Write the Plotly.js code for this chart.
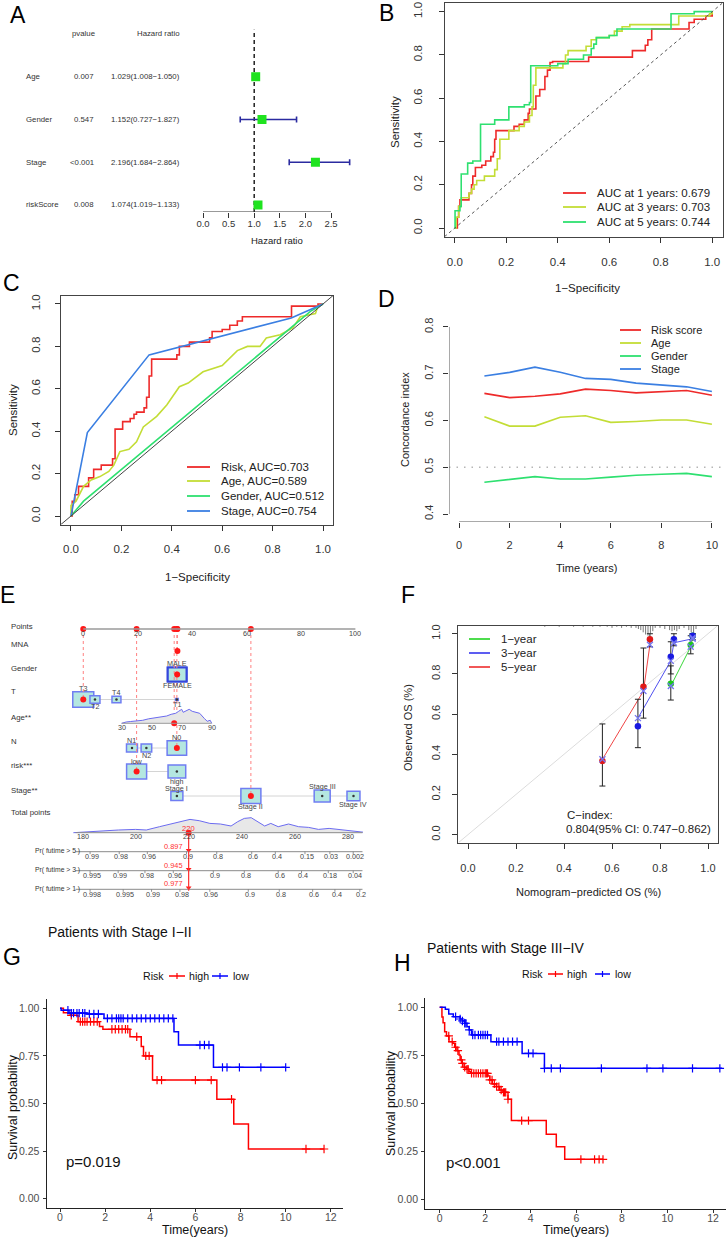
<!DOCTYPE html>
<html><head><meta charset="utf-8">
<script src="https://cdn.plot.ly/plotly-3.0.1.min.js"></script>
<style>html,body{margin:0;padding:0;background:#fff}#chart{width:726px;height:1239px}</style>
</head><body><div id="chart"></div>
<script>
// ================= DATA =================
// A: multivariate Cox regression
const forestVars = ['Age','Gender','Stage','riskScore'];
const forestP = ['0.007','0.547','<0.001','0.008'];
const forestHR = [1.029,1.152,2.196,1.074];
const forestLow = [1.008,0.727,1.684,1.019];
const forestHigh = [1.050,1.827,2.864,1.133];
const forestTicks = [0,0.5,1,1.5,2,2.5];

// B: time-dependent ROC
const rocYears = [1,3,5];
const rocAUC = [0.679,0.703,0.744];
const b1x = [0,0.01,0.015,0.02,0.055,0.065,0.07,0.08,0.105,0.12,0.14,0.15,0.155,0.16,0.23,0.25,0.27,0.285,0.29,0.315,0.33,0.35,0.36,0.37,0.38,0.52,0.69,0.74,0.75,0.765,0.91,0.93,0.975,1];
const b1y = [0,0.05,0.1,0.13,0.16,0.2,0.24,0.28,0.29,0.31,0.33,0.35,0.41,0.45,0.47,0.48,0.5,0.53,0.55,0.61,0.64,0.7,0.73,0.765,0.77,0.79,0.82,0.845,0.87,0.92,0.95,0.965,0.98,1];
const b3x = [0,0.005,0.015,0.025,0.055,0.065,0.075,0.085,0.115,0.155,0.165,0.175,0.21,0.25,0.27,0.29,0.3,0.305,0.315,0.42,0.43,0.44,0.51,0.53,0.55,0.6,0.62,0.65,0.68,0.87,0.99,1];
const b3y = [0,0.05,0.1,0.14,0.16,0.18,0.2,0.22,0.24,0.27,0.32,0.41,0.45,0.47,0.49,0.52,0.56,0.66,0.74,0.76,0.8,0.82,0.84,0.87,0.88,0.89,0.91,0.93,0.94,0.98,0.99,1];
const b5x = [0,0.001,0.02,0.025,0.05,0.07,0.1,0.155,0.21,0.27,0.29,0.295,0.4,0.44,0.5,0.53,0.54,0.55,0.6,0.63,0.84,0.93,1];
const b5y = [0,0.08,0.1,0.25,0.3,0.31,0.48,0.5,0.56,0.57,0.58,0.75,0.76,0.78,0.8,0.83,0.85,0.88,0.89,0.92,0.99,1.0,1];

// C: ROC of clinical factors
const cNames = ['Risk','Age','Gender','Stage'];
const cAUC = [0.703,0.589,0.512,0.754];
const cRiskX = [0,0.005,0.015,0.03,0.07,0.09,0.12,0.165,0.175,0.205,0.235,0.25,0.26,0.29,0.3,0.31,0.32,0.42,0.43,0.47,0.55,0.56,0.6,0.63,0.66,0.68,0.875,0.98,1];
const cRiskY = [0,0.07,0.1,0.14,0.18,0.22,0.24,0.27,0.41,0.445,0.46,0.48,0.49,0.51,0.56,0.66,0.74,0.76,0.8,0.82,0.84,0.87,0.88,0.9,0.92,0.94,0.99,1,1];
const cAgeX = [0,0,0.02,0.05,0.08,0.115,0.15,0.17,0.194,0.23,0.26,0.287,0.34,0.38,0.43,0.465,0.524,0.6,0.66,0.7,0.75,0.775,0.83,0.88,0.91,0.97,0.98,1];
const cAgeY = [0,0.05,0.07,0.14,0.17,0.186,0.21,0.24,0.304,0.315,0.35,0.42,0.47,0.524,0.61,0.627,0.68,0.71,0.78,0.8,0.8,0.84,0.855,0.887,0.94,0.955,0.99,1];
const cGenderX = [0,0.05,0.95,1];
const cGenderY = [0,0.07,0.965,1];
const cStageX = [0,0.065,0.31,0.874,1];
const cStageY = [0,0.394,0.76,0.934,1];

// D: C-index over time
const dNames = ['Risk score','Age','Gender','Stage'];
const dTime = [1,2,3,4,5,6,7,8,9,10];
const dRisk = [0.658,0.649,0.652,0.657,0.667,0.664,0.659,0.662,0.664,0.654];
const dAge = [0.608,0.588,0.588,0.607,0.610,0.596,0.598,0.601,0.601,0.592];
const dGender = [0.468,0.474,0.480,0.475,0.475,0.479,0.483,0.485,0.487,0.480];
const dStage = [0.695,0.703,0.714,0.703,0.690,0.688,0.680,0.676,0.672,0.662];

// E: nomogram
const ptsTicks = [0,20,40,60,80,100];
const genderLv = ['MALE','FEMALE'], genderPts = [34.5,34.5], genderN = [90,88];
const tLv = ['T3','T2','T4','T1'], tPts = [0,4.3,12.2,34.4], tN = [110,25,20,2];
const nLv = ['N1','N2','N0'], nPts = [17.9,23.2,34.4], nN = [30,28,95];
const riskLv = ['low','high'], riskPts = [19.6,34.4], riskN = [100,78];
const stageLv = ['Stage I','Stage II','Stage III','Stage IV'], stagePts = [34.4,61.6,87.8,99.3], stageN = [36,100,64,42];
const ageTicks = [30,50,70,90];
const ageMin = 30, ageMax = 90, agePtsMin = 14.1, agePtsMax = 47.2;
const ageGrid = [30,33,36,40,44,48,52,56,60,63,66,68,70,71,73,75,77,79,82,85,87,89,90];
const ageDens = [0,1.3,1.8,2.5,3,4.5,5.5,6.5,7.3,9,10,12,14,11,12.5,14,12,11,10,5,2,3,0];
const mnaPts = 34.6;
const selT = 'T3', selN = 'N0', selRisk = 'low', selStage = 'Stage II', selAge = 65;
const totTicks = [180,200,220,240,260,280];
const totGrid = [176.5,182,187,193.5,200,204,209,213,217,220.5,224,228,232,236,238.5,241,243.6,246,248.7,251,253.8,257.7,261.5,265.3,269,273,277,280.7,284.5,287.6];
const totDens = [0,1,2,2.7,3.3,2.7,6,8.7,11,13.3,12,9.3,8.7,6.7,11,14.3,15,11,6.7,9.3,6,8.7,6,5.3,3.3,4.3,3.3,2,1,0];
const totSel = 220;
const prNames = ['Pr( futime > 5 )','Pr( futime > 3 )','Pr( futime > 1 )'];
const prLabels = [
  ['0.99','0.98','0.96','0.9','0.8','0.6','0.4','0.15','0.03','0.002'],
  ['0.995','0.99','0.98','0.96','0.9','0.8','0.6','0.4','0.18','0.04'],
  ['0.998','0.995','0.99','0.98','0.96','0.9','0.8','0.6','0.4','0.2']];
const prAt = [
  [182.8,193.8,204.4,219.2,230.6,243.8,252.7,263.9,273.3,282.1],
  [182.8,193.4,203.5,214.2,229.3,241.0,253.8,262.6,272.7,282.1],
  [182.8,195.3,206.0,216.7,228.0,242.5,254.2,266.8,275.2,284.6]];
const prSel = [0.897,0.945,0.977];

// F: calibration
const calNames = ['1\u2212year','3\u2212year','5\u2212year'];
const calPred1 = [0.845,0.928,0.936], calObs1 = [0.751,0.944,0.99], calLo1 = [0.67,0.90,0.97], calHi1 = [0.84,0.99,1.0], calBc1 = [0.74,0.935,0.98];
const calPred3 = [0.708,0.845,0.858,0.936], calObs3 = [0.539,0.886,0.973,0.99], calLo3 = [0.433,0.80,0.94,0.97], calHi3 = [0.674,0.96,1.0,1.0], calBc3 = [0.58,0.865,0.955,0.975];
const calPred5 = [0.56,0.731,0.758], calObs5 = [0.367,0.736,0.973], calLo5 = [0.242,0.58,0.935], calHi5 = [0.551,0.929,1.0], calBc5 = [0.375,0.715,0.945];
const rugX = [0.32,0.38,0.44,0.48,0.52,0.55,0.58,0.6,0.62,0.64,0.66,0.68,0.7,0.71,0.72,0.73,0.74,0.75,0.76,0.77,0.78,0.8,0.82,0.84,0.85,0.86,0.87,0.88,0.9,0.92,0.93,0.94,0.95];
const rugN = [1,1,1,1,1,1,1,2,1,2,1,2,2,3,4,6,8,9,7,5,2,2,3,4,5,4,5,3,2,4,6,7,3];
const cIndexText = ['C\u2212index:','0.804(95% CI: 0.747\u22120.862)'];

// G: KM stage I-II
const gHighT = [0,0.15,0.45,0.8,1.75,1.9,3.1,3.6,3.7,4.1,6.95,7.7,8.35,11.7];
const gHighS = [1,0.977,0.963,0.93,0.904,0.89,0.851,0.8,0.75,0.623,0.522,0.392,0.261,0.261];
const gLowT = [0,0.05,0.4,1.2,1.95,5.05,5.25,6.8,10.0];
const gLowS = [1,0.99,0.975,0.97,0.947,0.877,0.807,0.69,0.69];
const gHighCens = [0.5,0.9,1.0,1.1,1.2,1.35,1.5,1.65,2.3,2.45,2.6,2.75,2.9,3.0,3.4,3.8,3.95,4.3,4.5,6.0,6.7,7.6,10.9,11.7];
const gLowCens = [0.35,0.5,0.6,0.75,0.85,1.0,1.1,1.3,1.5,1.7,2.1,2.3,2.5,2.6,2.7,2.8,3.0,3.2,3.4,3.6,3.8,4.0,4.2,4.4,4.6,4.8,5.0,6.2,6.4,6.6,7.2,7.4,7.95,8.9,10.0];
// H: KM stage III-IV
const hHighT = [0,0.1,0.15,0.22,0.3,0.41,0.58,0.66,0.76,0.85,0.9,0.98,1.07,1.17,1.29,1.35,2.12,2.2,2.31,2.49,2.63,2.78,3.0,3.15,4.68,5.12,5.49,7.17];
const hHighS = [1,0.95,0.92,0.873,0.851,0.821,0.813,0.792,0.774,0.752,0.726,0.708,0.688,0.677,0.665,0.656,0.642,0.622,0.601,0.587,0.569,0.557,0.521,0.41,0.339,0.274,0.208,0.208];
const hLowT = [0,0.25,0.4,0.6,0.9,1.0,1.1,1.2,1.3,1.4,2.25,3.62,4.6,12.4];
const hLowS = [1,0.99,0.965,0.951,0.939,0.929,0.917,0.899,0.882,0.856,0.821,0.76,0.682,0.682];
const hHighCens = [0.4,0.55,0.7,0.8,0.95,1.0,1.1,1.2,1.25,1.4,1.5,1.6,1.7,1.8,1.9,2.0,2.05,2.1,2.2,2.3,2.4,2.5,2.6,2.7,2.8,2.85,2.9,3.0,3.6,3.9,6.2,6.8,7.0,7.17];
const hLowCens = [0.7,0.9,1.0,1.1,1.15,1.3,1.45,1.55,1.7,1.8,1.9,2.0,2.1,2.5,2.6,2.8,3.0,3.2,3.4,3.9,4.1,4.6,4.9,5.3,7.1,9.1,9.8,11.1,12.3];
const kmTicksX = [0,2,4,6,8,10,12];
const kmTicksY = [0,0.25,0.5,0.75,1];
const kmP = ['p=0.019','p<0.001'];
const kmTitles = ['Patients with Stage I\u2212II','Patients with Stage III\u2212IV'];
const riskGroups = ['high','low'];

// ================= DRAWING =================
const W = 726, H = 1239;
const FONT = 'Liberation Sans, Arial, sans-serif';
const dX = (a,b)=>[a/W,b/W];
const dY = (top,bottom)=>[1-bottom/H,1-top/H];
const RED='#EE2A2A', YGR='#C3DD36', GRN='#2EE070', BLU='#3B7FE2';
const annotations=[], shapes=[], traces=[];
function T(text,x,y,size,o){o=o||{};annotations.push({text:text,x:x/W,y:1-y/H,xref:'paper',yref:'paper',showarrow:false,xanchor:o.xa||'center',yanchor:o.ya||'middle',textangle:o.rot||0,font:{family:FONT,size:size,color:o.color||'#222'},borderpad:0});}
function TD(text,x,y,xref,yref,size,o){o=o||{};annotations.push({text:text,x:x,y:y,xref:xref,yref:yref,showarrow:false,xanchor:o.xa||'center',yanchor:o.ya||'middle',font:{family:FONT,size:size,color:o.color||'#333'},borderpad:0});}
function LP(x0,y0,x1,y1,color,width,dash){shapes.push({type:'line',xref:'paper',yref:'paper',x0:x0/W,x1:x1/W,y0:1-y0/H,y1:1-y1/H,line:{color:color,width:width,dash:dash||'solid'}});}
function LD(x0,y0,x1,y1,xref,yref,color,width,dash,layer){shapes.push({type:'line',xref:xref,yref:yref,x0:x0,x1:x1,y0:y0,y1:y1,line:{color:color,width:width,dash:dash||'solid'},layer:layer||'above'});}
const f1 = v=>v.toFixed(1), f2=v=>v.toFixed(2);

function rAx(dom,rng,tv,tt,anchor,isY,stand,size,box){
  const a={domain:dom,range:rng,anchor:anchor,tickmode:'array',tickvals:tv,ticktext:tt,ticks:'outside',ticklen:5,tickwidth:1,tickcolor:'#333',
    showline:!!box,mirror:!!box,linecolor:'#444',linewidth:1,showgrid:false,zeroline:false,
    tickfont:{family:FONT,size:size,color:'#333'},ticklabelstandoff:stand,fixedrange:true};
  if(isY) a.tickangle=-90;
  return a;
}
function ggAx(dom,rng,tv,tt,anchor,stand){
  return {domain:dom,range:rng,anchor:anchor,tickmode:'array',tickvals:tv,ticktext:tt,ticks:'outside',ticklen:3,tickwidth:1,tickcolor:'#333',
    showline:true,mirror:false,linecolor:'#222',linewidth:1.2,showgrid:false,zeroline:false,
    tickfont:{family:FONT,size:10.5,color:'#4d4d4d'},ticklabelstandoff:stand,fixedrange:true};
}

// ---------- Panel A ----------
const fRows = forestVars.map((_,i)=>forestVars.length-i);
traces.push({type:'scatter',mode:'markers',x:forestHR,y:fRows,xaxis:'x',yaxis:'y',
  marker:{symbol:'square',size:9,color:'#1FE31F'},
  error_x:{type:'data',symmetric:false,array:forestHigh.map((h,i)=>h-forestHR[i]),arrayminus:forestLow.map((l,i)=>forestHR[i]-l),color:'#2B2BA0',thickness:1.6,width:3}});
LD(1,0.836,1,5.1,'x','y','#222',1.5,'4px,3px','below');
LD(0,0.836,2.5,0.836,'x','y','#333',1);
TD('pvalue',83/W,5,'paper','y',7.8);
TD('Hazard ratio',158/W,5,'paper','y',7.8);
forestVars.forEach((v,i)=>{
  TD(v,25/W,fRows[i],'paper','y',7.8,{xa:'left'});
  TD(forestP[i],95/W,fRows[i],'paper','y',7.8,{xa:'right'});
  TD(forestHR[i].toFixed(3)+'('+forestLow[i].toFixed(3)+'\u2212'+forestHigh[i].toFixed(3)+')',181/W,fRows[i],'paper','y',7.8,{xa:'right'});
});
T('Hazard ratio',277,240,9.5);

// ---------- Panel B ----------
const bx=[b1x,b3x,b5x], by=[b1y,b3y,b5y], bcol=[RED,YGR,GRN];
LD(-0.04,-0.04,1.04,1.04,'x2','y2','#555',1,'3px,3px');
bx.forEach((xs,i)=>traces.push({type:'scatter',mode:'lines',x:xs,y:by[i],xaxis:'x2',yaxis:'y2',line:{shape:'hv',color:bcol[i],width:1.6}}));
[193,207,222].forEach((yy,i)=>{LP(563,yy,586,yy,bcol[i],1.8);T('AUC at '+rocYears[i]+' years: '+rocAUC[i].toFixed(3),596,yy,11.5,{xa:'left'});});
T('Sensitivity',395,122,11.5,{rot:-90});
T('1\u2212Specificity',587,288,11.5);

// ---------- Panel C ----------
LD(-0.04,-0.04,1.04,1.04,'x3','y3','#444',1);
const cxs=[cRiskX,cAgeX,cGenderX,cStageX], cys=[cRiskY,cAgeY,cGenderY,cStageY], ccol=[RED,YGR,GRN,BLU];
cxs.forEach((xs,i)=>traces.push({type:'scatter',mode:'lines',x:xs,y:cys[i],xaxis:'x3',yaxis:'y3',line:{shape:i===0?'hv':'linear',color:ccol[i],width:1.6}}));
[467,481,496,511].forEach((yy,i)=>{LP(187,yy,210,yy,ccol[i],1.8);T(cNames[i]+', AUC='+cAUC[i].toFixed(3),220,yy,11.5,{xa:'left'});});
T('Sensitivity',13,410,11.5,{rot:-90});
T('1\u2212Specificity',198,577,11.5);

// ---------- Panel D ----------
shapes.push({type:'line',xref:'paper',yref:'y4',x0:449/W,x1:1,y0:0.5,y1:0.5,line:{color:'#b5b5b5',width:1.5,dash:'1.5px,6px'}});
LD(-0.4,0.4,-0.4,0.8,'x4','y4','#555',1);
LD(0,0.384,10,0.384,'x4','y4','#555',1);
const dys=[dRisk,dAge,dGender,dStage], dcol=[RED,YGR,GRN,BLU];
dys.forEach((ys,i)=>traces.push({type:'scatter',mode:'lines',x:dTime,y:ys,xaxis:'x4',yaxis:'y4',line:{color:dcol[i],width:1.6}}));
[330,343,356,369].forEach((yy,i)=>{LP(620,yy,641,yy,dcol[i],1.8);T(dNames[i],650,yy,11,{xa:'left'});});
T('Concordance index',405,420,11,{rot:-90});
T('Time (years)',586,568,11);

// ---------- Panel E (nomogram) ----------
const PXPT = 2.72;   // px per point on points scale
const ROW = {points:629,mna:651,gender:674.5,T:699.5,age:723.3,N:748,risk:771.5,stage:796,total:832.7,pr:[851.7,870.7,889.3]};
const NOMFS = 7.2;
[['Points',626],['MNA',644],['Gender',668],['T',692],['Age**',717],['N',741],['risk***',765],['Stage**',790],['Total points',812]].forEach(r=>T(r[0],10,r[1],7.8,{xa:'left',color:'#333'}));
const agePts = a=>agePtsMin+(a-ageMin)*(agePtsMax-agePtsMin)/(ageMax-ageMin);
function connector(pts,row){LD(Math.min(...pts),row,Math.max(...pts),row,'x5','y5','#d4d4d4',1,'solid','below');}
connector(tPts,ROW.T); connector(nPts,ROW.N); connector(riskPts,ROW.risk); connector(stagePts,ROW.stage);
function nomBoxes(lv,pts,ns,row,sides,strong,gap){
  const cx=[],cy=[];
  lv.forEach((name,i)=>{
    const wpx=2*Math.sqrt(ns[i]), hpx=0.74*wpx, wp=wpx/PXPT;
    shapes.push({type:'rect',xref:'x5',yref:'y5',x0:pts[i]-wp/2,x1:pts[i]+wp/2,y0:row-hpx/2,y1:row+hpx/2,fillcolor:'#B4E7E0',line:{color:strong?'#3446DC':'#6F7DF2',width:strong?2:1.5},layer:'below'});
    TD(name,pts[i],row+sides[i]*(hpx/2+(gap||3.6)),'x5','y5',NOMFS,{color:'#444'});
    cx.push(pts[i]);cy.push(row);
  });
  traces.push({type:'scatter',mode:'markers',x:cx,y:cy,xaxis:'x5',yaxis:'y5',marker:{size:2.5,color:'#333'}});
}
nomBoxes(genderLv,genderPts,genderN,ROW.gender,[-1,1],true);
nomBoxes(tLv,tPts,tN,ROW.T,[-1,1,-1,1],false);
nomBoxes(nLv,nPts,nN,ROW.N,[-1,1,-1],false);
nomBoxes(riskLv,riskPts,riskN,ROW.risk,[-1,1],false,3.0);
nomBoxes(stageLv,stagePts,stageN,ROW.stage,[-1,1,-1,1],false,3.4);
LD(0,ROW.points,100,ROW.points,'x5','y5','#9a9a9a',1.5);
ptsTicks.forEach(p=>TD(String(p),p,ROW.points+4.8,'x5','y5',NOMFS,{color:'#444'}));
LD(agePts(ageMin),ROW.age,agePts(ageMax),ROW.age,'x5','y5','#9a9a9a',1);
ageTicks.forEach(a=>TD(String(a),agePts(a),ROW.age+4.5,'x5','y5',NOMFS,{color:'#444'}));
const ageX=ageGrid.map(agePts), ageY=ageDens.map(d=>ROW.age-d);
traces.push({type:'scatter',mode:'lines',x:ageX,y:ageY,xaxis:'x5',yaxis:'y5',fill:'toself',fillcolor:'#e6e6e6',line:{width:0,color:'#e6e6e6'}});
traces.push({type:'scatter',mode:'lines',x:ageX,y:ageY,xaxis:'x5',yaxis:'y5',line:{width:1,color:'#6B6BF0'}});
const selPts = [tPts[tLv.indexOf(selT)],riskPts[riskLv.indexOf(selRisk)],agePts(selAge),nPts[nLv.indexOf(selN)],mnaPts,stagePts[stageLv.indexOf(selStage)]];
const selRows = [ROW.T,ROW.risk,ROW.age,ROW.N,ROW.mna,ROW.stage];
selPts.forEach((p,i)=>LD(p,ROW.points,p,selRows[i],'x5','y5','#FF8080',1,'dot','below'));
traces.push({type:'scatter',mode:'markers',x:selPts.concat([genderPts[0]]),y:selRows.concat([ROW.gender]),xaxis:'x5',yaxis:'y5',marker:{size:6,color:'#FF1818'}});
traces.push({type:'scatter',mode:'markers',x:selPts,y:selPts.map(()=>ROW.points),xaxis:'x5',yaxis:'y5',marker:{size:6,color:'#FF1818'}});
LD(177.3,ROW.total,285.6,ROW.total,'x6','y5','#8a8a8a',1);
const totY=totDens.map(d=>ROW.total-d);
traces.push({type:'scatter',mode:'lines',x:totGrid,y:totY,xaxis:'x6',yaxis:'y5',fill:'toself',fillcolor:'#e8e8e8',line:{width:0,color:'#e8e8e8'}});
traces.push({type:'scatter',mode:'lines',x:totGrid,y:totY,xaxis:'x6',yaxis:'y5',line:{width:1,color:'#6B6BF0'}});
totTicks.forEach(t=>TD(String(t),t,ROW.total+4,'x6','y5',NOMFS,{color:'#444'}));
prNames.forEach((nm,k)=>{
  const yy=ROW.pr[k];
  LD(177.3,yy,285.6,yy,'x6','y5','#8a8a8a',1);
  T(nm,80.5,yy-0.5,6.8,{xa:'right',color:'#333'});
  prLabels[k].forEach((lb,j)=>{LD(prAt[k][j],yy,prAt[k][j],yy+2.5,'x6','y5','#777',0.8);TD(lb,prAt[k][j]+0.6,yy+5,'x6','y5',NOMFS,{color:'#444'});});
  TD(prSel[k].toFixed(3),totSel-1.6,yy-5.5,'x6','y5',7.4,{xa:'right',color:'#FF3030'});
});
LD(totSel,ROW.total,totSel,ROW.pr[2]+1.5,'x6','y5','#FF3030',1.2);
TD(String(totSel),totSel,ROW.total-4.5,'x6','y5',7.6,{color:'#FF3030'});
traces.push({type:'scatter',mode:'markers',x:[totSel],y:[ROW.total],xaxis:'x6',yaxis:'y5',marker:{size:6,color:'#FF1818'}});
traces.push({type:'scatter',mode:'markers',x:ROW.pr.map(()=>totSel),y:ROW.pr.map(v=>v-1.5),xaxis:'x6',yaxis:'y5',marker:{symbol:'triangle-down',size:5,color:'#FF1818'}});

// ---------- Panel F (calibration) ----------
LD(-0.04,-0.04,1.04,1.04,'x7','y7','#dcdcdc',1,'solid','below');
const rx=[],ry=[];
rugX.forEach((x,i)=>{rx.push(x,x,null);ry.push(1.04,1.04-rugN[i]*1.1/201,null);});
traces.push({type:'scatter',mode:'lines',x:rx,y:ry,xaxis:'x7',yaxis:'y7',line:{color:'#555',width:0.8}});
const cal=[{p:calPred1,o:calObs1,lo:calLo1,hi:calHi1,bc:calBc1,c:'#1CC81C',l:'#3AD83A'},
           {p:calPred3,o:calObs3,lo:calLo3,hi:calHi3,bc:calBc3,c:'#1818E0',l:'#5050F0'},
           {p:calPred5,o:calObs5,lo:calLo5,hi:calHi5,bc:calBc5,c:'#E01818',l:'#F04545'}];
cal.forEach(s=>traces.push({type:'scatter',mode:'lines',x:s.p,y:s.bc,xaxis:'x7',yaxis:'y7',line:{color:s.l,width:1}}));
cal.forEach(s=>traces.push({type:'scatter',mode:'markers',x:s.p,y:s.o,xaxis:'x7',yaxis:'y7',marker:{size:6.5,color:s.c},
  error_y:{type:'data',symmetric:false,array:s.hi.map((h,i)=>h-s.o[i]),arrayminus:s.lo.map((l,i)=>s.o[i]-l),color:'#222',thickness:1,width:3}}));
cal.forEach(s=>traces.push({type:'scatter',mode:'markers',x:s.p,y:s.bc,xaxis:'x7',yaxis:'y7',marker:{symbol:'x-thin-open',size:6,color:'#7575F0',line:{width:1.3,color:'#7575F0'}}}));
const fcol=['#3AD83A','#4B4BF0','#F04545'];
[639,653,667].forEach((yy,i)=>{LP(469,yy,490,yy,fcol[i],1.8);T(calNames[i],500,yy,11.5,{xa:'left'});});
T(cIndexText[0],566,815,11.5,{xa:'left'});
T(cIndexText[1],565,829,11.5,{xa:'left'});
T('Observed OS (%)',408,728,11,{rot:-90});
T('Nomogram\u2212predicted OS (%)',588,892,11);

// ---------- Panels G & H (KM) ----------
function survAt(ts,ss,t){let s=ss[0];for(let i=0;i<ts.length;i++){if(ts[i]<=t)s=ss[i];}return s;}
function km(ax,ay,hT,hS,lT,lS,hC,lC){
  [[hT,hS,hC,'#FF0000'],[lT,lS,lC,'#0000FF']].forEach(g=>{
    traces.push({type:'scatter',mode:'lines',x:g[0],y:g[1],xaxis:ax,yaxis:ay,line:{shape:'hv',color:g[3],width:1.5}});
    traces.push({type:'scatter',mode:'markers',x:g[2],y:g[2].map(t=>survAt(g[0],g[1],t)),xaxis:ax,yaxis:ay,marker:{symbol:'cross-thin-open',size:6,color:g[3],line:{width:1.2,color:g[3]}}});
  });
}
km('x8','y8',gHighT,gHighS,gLowT,gLowS,gHighCens,gLowCens);
km('x9','y9',hHighT,hHighS,hLowT,hLowS,hHighCens,hLowCens);
function kmLegend(xRisk,xRedA,xRedB,xHigh,xBluA,xBluB,xLow,yy){
  T('Risk',xRisk,yy,10.6,{xa:'left',color:'#111'});
  LP(xRedA,yy,xRedB,yy,'#FF0000',1.5); LP((xRedA+xRedB)/2,yy-3,(xRedA+xRedB)/2,yy+3,'#FF0000',1.2);
  T(riskGroups[0],xHigh,yy,10.6,{xa:'left',color:'#111'});
  LP(xBluA,yy,xBluB,yy,'#0000FF',1.5); LP((xBluA+xBluB)/2,yy-3,(xBluA+xBluB)/2,yy+3,'#0000FF',1.2);
  T(riskGroups[1],xLow,yy,10.6,{xa:'left',color:'#111'});
}
kmLegend(142,169,185,188,212,228,232,976);
kmLegend(521,548,563,566,595,610,614,974);
T(kmTitles[0],47,932,14,{xa:'left',color:'#111'});
T(kmTitles[1],426,948,14,{xa:'left',color:'#111'});
T(kmP[0],65,1161,15,{xa:'left',color:'#111'});
T(kmP[1],445,1162,15,{xa:'left',color:'#111'});
T('Survival probability',13,1107,12.5,{rot:-90,color:'#111'});
T('Survival probability',391,1103,12.5,{rot:-90,color:'#111'});
T('Time(years)',195,1230,12.5,{color:'#111'});
T('Time(years)',576,1230,12.5,{color:'#111'});

// ---------- Panel letters ----------
[['A',18,15],['B',386,13],['C',11,283],['D',386,299],['E',7,595],['F',408,595],['G',12,957],['H',402,963]].forEach(l=>T(l[0],l[1],l[2],23,{color:'#000'}));

// ---------- Layout ----------
const u01=[0,0.2,0.4,0.6,0.8,1], u01t=u01.map(f1);
const layout={width:W,height:H,margin:{l:0,r:0,t:0,b:0},paper_bgcolor:'#fff',plot_bgcolor:'rgba(0,0,0,0)',showlegend:false,font:{family:FONT},
  xaxis:rAx(dX(190,352),[-0.254,2.910],forestTicks,forestTicks.map(f1),'y',false,-2,9.5,false),
  yaxis:{domain:dY(20,212),range:[0.836,5.327],visible:false,fixedrange:true},
  xaxis2:rAx(dX(444.5,722.5),[-0.04,1.04],u01,u01t,'y2',false,9,11.5,true),
  yaxis2:rAx(dY(3,236.7),[-0.04,1.04],u01,u01t,'x2',true,12,11.5,true),
  xaxis3:rAx(dX(60.9,333.1),[-0.04,1.04],u01,u01t,'y3',false,9,11.5,true),
  yaxis3:rAx(dY(295.5,524.5),[-0.04,1.04],u01,u01t,'x3',true,10,11.5,true),
  xaxis4:rAx(dX(449,722),[-0.4,10.4],[0,2,4,6,8,10],['0','2','4','6','8','10'],'y4',false,8,11,false),
  yaxis4:rAx(dY(319.5,521.5),[0.384,0.816],[0.4,0.5,0.6,0.7,0.8],['0.4','0.5','0.6','0.7','0.8'],'x4',true,6,11,false),
  xaxis5:{domain:dX(0,363),range:[-30.6,102.8],anchor:'y5',visible:false,fixedrange:true},
  xaxis6:{domain:dX(0,363),range:[148.8,285.8],anchor:'y5',overlaying:'x5',visible:false,fixedrange:true},
  yaxis5:{domain:dY(600,905),range:[905,600],anchor:'x5',visible:false,fixedrange:true},
  xaxis7:rAx(dX(458.4,717.6),[-0.04,1.04],u01,u01t,'y7',false,10,11,true),
  yaxis7:rAx(dY(625.7,842.7),[-0.04,1.04],u01,u01t,'x7',true,8,11,true),
  xaxis8:ggAx(dX(46.7,343),[-0.59,12.54],kmTicksX,kmTicksX.map(String),'y8',-4),
  yaxis8:ggAx(dY(998.8,1208.2),[-0.05,1.05],kmTicksY,kmTicksY.map(f2),'x8',1),
  xaxis9:ggAx(dX(425.3,726),[-0.63,12.57],kmTicksX,kmTicksX.map(String),'y9',-4),
  yaxis9:ggAx(dY(997.7,1208.9),[-0.05,1.05],kmTicksY,kmTicksY.map(f2),'x9',1),
  shapes:shapes,annotations:annotations};
traces.forEach(t=>{t.hoverinfo='skip';});
Plotly.newPlot('chart',traces,layout,{staticPlot:true});
</script></body></html>
